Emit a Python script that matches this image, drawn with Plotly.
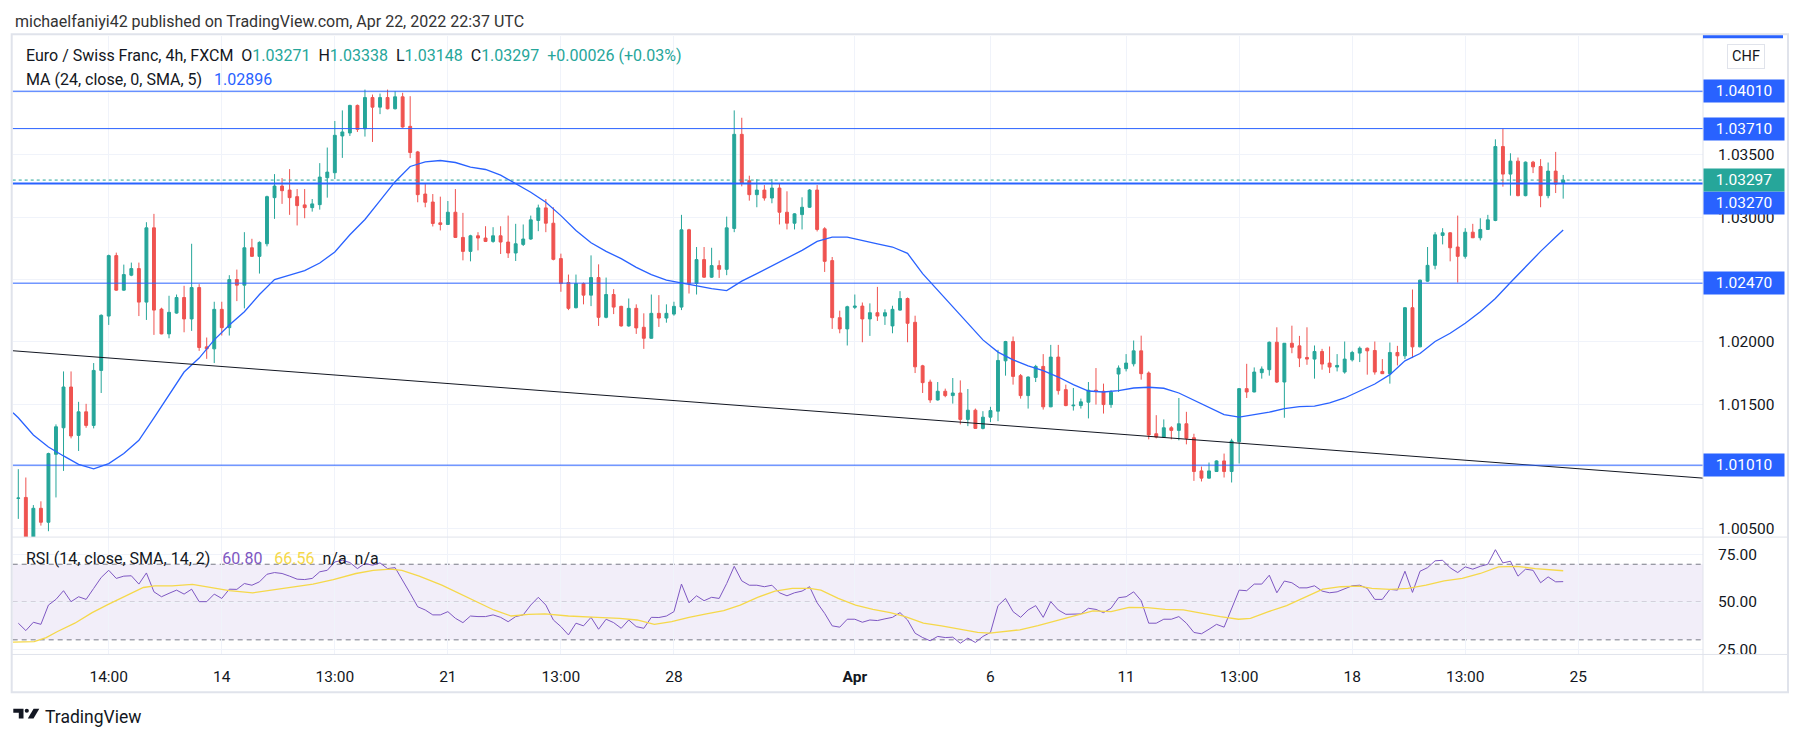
import plotly.graph_objects as go

W, H = 1802, 742

# ---------------- data (EUR/CHF 4h candles) ----------------
opens = [
    1.00744, 1.00751, 1.00430, 1.00664, 1.00552, 1.01097, 1.01310, 1.01637, 1.01249, 1.01438,
    1.01329, 1.01770, 1.02206, 1.02691, 1.02414, 1.02534, 1.02587, 1.02318, 1.02914, 1.02262,
    1.02063, 1.02230, 1.02355, 1.02183, 1.02435, 1.01959, 1.01943, 1.02260, 1.02113, 1.02499,
    1.02454, 1.02754, 1.02685, 1.02786, 1.03156, 1.03249, 1.03217, 1.03164, 1.03098, 1.03076,
    1.03100, 1.03316, 1.03356, 1.03651, 1.03675, 1.03896, 1.03709, 1.03959, 1.03882, 1.03959,
    1.03869, 1.03965, 1.03728, 1.03523, 1.03185, 1.03121, 1.02954, 1.02941, 1.03039, 1.02837,
    1.02725, 1.02850, 1.02832, 1.02805, 1.02850, 1.02800, 1.02712, 1.02781, 1.02824, 1.02973,
    1.03074, 1.02951, 1.02667, 1.02475, 1.02273, 1.02467, 1.02374, 1.02515, 1.02196, 1.02379,
    1.02284, 1.02127, 1.02268, 1.02116, 1.02028, 1.02228, 1.02190, 1.02222, 1.02278, 1.02898,
    1.02467, 1.02659, 1.02518, 1.02611, 1.02581, 1.02909, 1.03664, 1.03292, 1.03180, 1.03217,
    1.03153, 1.03233, 1.03039, 1.02951, 1.03020, 1.03079, 1.03217, 1.02906, 1.02651, 1.02193,
    1.02103, 1.02276, 1.02286, 1.02183, 1.02233, 1.02206, 1.02127, 1.02254, 1.02347, 1.02156,
    1.01807, 1.01677, 1.01533, 1.01603, 1.01568, 1.01589, 1.01377, 1.01451, 1.01305, 1.01395,
    1.01443, 1.01847, 1.02002, 1.01728, 1.01568, 1.01714, 1.01802, 1.01478, 1.01877, 1.01616,
    1.01486, 1.01488, 1.01515, 1.01611, 1.01603, 1.01496, 1.01741, 1.01784, 1.01823, 1.01927,
    1.01749, 1.01262, 1.01235, 1.01310, 1.01289, 1.01342, 1.01230, 1.00964, 1.00906, 1.00959,
    1.01044, 1.00959, 1.01198, 1.01624, 1.01597, 1.01752, 1.01776, 1.01996, 1.01677, 1.01988,
    1.01967, 1.01874, 1.01861, 1.01922, 1.01829, 1.01797, 1.01757, 1.01855, 1.01909, 1.01948,
    1.01930, 1.01762, 1.01744, 1.01914, 1.01887, 1.02273, 1.01959, 1.02486, 1.02613, 1.02853,
    1.02874, 1.02760, 1.02685, 1.02879, 1.02834, 1.02901, 1.02973, 1.03566, 1.03345, 1.03449,
    1.03172, 1.03441, 1.03406, 1.03172, 1.03369, 1.03271,
]
highs = [
    1.00978, 1.00911, 1.00690, 1.00720, 1.01110, 1.01337, 1.01762, 1.01762, 1.01518, 1.01502,
    1.01829, 1.02220, 1.02699, 1.02715, 1.02619, 1.02635, 1.02635, 1.02959, 1.03026, 1.02273,
    1.02369, 1.02379, 1.02449, 1.02786, 1.02462, 1.02034, 1.02321, 1.02321, 1.02534, 1.02579,
    1.02879, 1.02826, 1.02805, 1.03172, 1.03345, 1.03313, 1.03385, 1.03225, 1.03225, 1.03145,
    1.03433, 1.03558, 1.03771, 1.03856, 1.03901, 1.03903, 1.04023, 1.03983, 1.03991, 1.04023,
    1.04010, 1.03997, 1.03970, 1.03531, 1.03265, 1.03185, 1.03164, 1.03129, 1.03225, 1.03034,
    1.02858, 1.02879, 1.02927, 1.02919, 1.02927, 1.03012, 1.02946, 1.02941, 1.03012, 1.03100,
    1.03145, 1.03079, 1.02707, 1.02539, 1.02539, 1.02475, 1.02693, 1.02621, 1.02515, 1.02422,
    1.02289, 1.02347, 1.02300, 1.02228, 1.02379, 1.02374, 1.02300, 1.02321, 1.03018, 1.02906,
    1.02760, 1.02760, 1.02754, 1.02653, 1.03004, 1.03856, 1.03797, 1.03332, 1.03305, 1.03257,
    1.03305, 1.03270, 1.03207, 1.03031, 1.03159, 1.03225, 1.03257, 1.02919, 1.02680, 1.02249,
    1.02289, 1.02379, 1.02315, 1.02308, 1.02440, 1.02260, 1.02289, 1.02406, 1.02355, 1.02209,
    1.01815, 1.01696, 1.01677, 1.01624, 1.01709, 1.01690, 1.01621, 1.01464, 1.01443, 1.01478,
    1.01935, 1.02007, 1.02042, 1.01741, 1.01722, 1.01815, 1.01901, 1.01975, 1.01975, 1.01656,
    1.01629, 1.01544, 1.01677, 1.01789, 1.01664, 1.01611, 1.01810, 1.01901, 1.02010, 1.02049,
    1.01762, 1.01411, 1.01377, 1.01323, 1.01549, 1.01438, 1.01262, 1.00999, 1.01031, 1.01049,
    1.01103, 1.01222, 1.01629, 1.01823, 1.01794, 1.01802, 1.02002, 1.02116, 1.01990, 1.02129,
    1.02047, 1.02116, 1.01970, 1.01943, 1.01962, 1.01901, 1.02002, 1.01927, 1.01962, 1.01954,
    1.02002, 1.01861, 1.01994, 1.01967, 1.02278, 1.02419, 1.02499, 1.02760, 1.02879, 1.02911,
    1.02879, 1.03012, 1.02911, 1.02946, 1.02991, 1.03018, 1.03624, 1.03709, 1.03512, 1.03478,
    1.03446, 1.03451, 1.03465, 1.03438, 1.03523, 1.03338,
]
lows = [
    1.00579, 1.00390, 1.00400, 1.00525, 1.00480, 1.00751, 1.00964, 1.01225, 1.01124, 1.01310,
    1.01305, 1.01589, 1.02135, 1.02409, 1.02409, 1.02526, 1.02206, 1.02175, 1.02055, 1.02060,
    1.02028, 1.02225, 1.02076, 1.02087, 1.01927, 1.01863, 1.01829, 1.02050, 1.02050, 1.02326,
    1.02268, 1.02680, 1.02547, 1.02765, 1.02986, 1.03106, 1.03018, 1.02933, 1.02991, 1.03044,
    1.03060, 1.03156, 1.03305, 1.03475, 1.03651, 1.03683, 1.03646, 1.03603, 1.03826, 1.03864,
    1.03864, 1.03717, 1.03473, 1.03119, 1.03079, 1.02925, 1.02893, 1.02938, 1.02832, 1.02653,
    1.02645, 1.02733, 1.02800, 1.02794, 1.02704, 1.02672, 1.02648, 1.02768, 1.02818, 1.02887,
    1.02879, 1.02653, 1.02401, 1.02254, 1.02268, 1.02300, 1.02286, 1.02127, 1.02188, 1.02222,
    1.02121, 1.02121, 1.02063, 1.01943, 1.02025, 1.02119, 1.02153, 1.02209, 1.02254, 1.02387,
    1.02379, 1.02512, 1.02512, 1.02512, 1.02534, 1.02879, 1.03247, 1.03132, 1.03079, 1.03132,
    1.03111, 1.02941, 1.02901, 1.02901, 1.02901, 1.03074, 1.02885, 1.02560, 1.02103, 1.02068,
    1.01970, 1.02262, 1.01996, 1.02047, 1.02167, 1.02135, 1.02068, 1.02249, 1.01996, 1.01749,
    1.01589, 1.01510, 1.01528, 1.01555, 1.01504, 1.01337, 1.01323, 1.01302, 1.01297, 1.01355,
    1.01363, 1.01728, 1.01656, 1.01544, 1.01464, 1.01677, 1.01456, 1.01475, 1.01576, 1.01483,
    1.01448, 1.01464, 1.01385, 1.01496, 1.01424, 1.01470, 1.01597, 1.01762, 1.01802, 1.01696,
    1.01217, 1.01225, 1.01230, 1.01217, 1.01209, 1.01177, 1.00884, 1.00879, 1.00903, 1.00956,
    1.00911, 1.00871, 1.01023, 1.01549, 1.01595, 1.01704, 1.01728, 1.01669, 1.01390, 1.01908,
    1.01797, 1.01815, 1.01704, 1.01776, 1.01749, 1.01762, 1.01744, 1.01842, 1.01837, 1.01736,
    1.01736, 1.01741, 1.01664, 1.01810, 1.01861, 1.01869, 1.01956, 1.02480, 1.02581, 1.02781,
    1.02645, 1.02475, 1.02667, 1.02832, 1.02813, 1.02898, 1.02967, 1.03244, 1.03172, 1.03167,
    1.03167, 1.03353, 1.03079, 1.03151, 1.03193, 1.03148,
]
closes = [
    1.00746, 1.00425, 1.00664, 1.00552, 1.01103, 1.01318, 1.01637, 1.01244, 1.01438, 1.01329,
    1.01770, 1.02212, 1.02691, 1.02414, 1.02539, 1.02587, 1.02318, 1.02914, 1.02254, 1.02063,
    1.02236, 1.02355, 1.02183, 1.02435, 1.01954, 1.01943, 1.02260, 1.02113, 1.02499, 1.02454,
    1.02754, 1.02685, 1.02797, 1.03164, 1.03249, 1.03212, 1.03156, 1.03092, 1.03076, 1.03106,
    1.03321, 1.03361, 1.03656, 1.03683, 1.03896, 1.03704, 1.03959, 1.03882, 1.03959, 1.03869,
    1.03965, 1.03723, 1.03518, 1.03180, 1.03119, 1.02949, 1.02941, 1.03039, 1.02837, 1.02725,
    1.02850, 1.02832, 1.02805, 1.02850, 1.02800, 1.02712, 1.02786, 1.02824, 1.02978, 1.03074,
    1.02951, 1.02661, 1.02467, 1.02268, 1.02467, 1.02374, 1.02515, 1.02196, 1.02379, 1.02278,
    1.02127, 1.02268, 1.02111, 1.02028, 1.02228, 1.02190, 1.02228, 1.02284, 1.02898, 1.02467,
    1.02659, 1.02518, 1.02611, 1.02581, 1.02914, 1.03664, 1.03273, 1.03180, 1.03217, 1.03153,
    1.03233, 1.03039, 1.02951, 1.03026, 1.03079, 1.03217, 1.02901, 1.02645, 1.02193, 1.02103,
    1.02281, 1.02286, 1.02183, 1.02233, 1.02206, 1.02233, 1.02260, 1.02347, 1.02148, 1.01799,
    1.01672, 1.01533, 1.01603, 1.01568, 1.01589, 1.01377, 1.01451, 1.01305, 1.01395, 1.01448,
    1.01850, 1.02002, 1.01722, 1.01568, 1.01717, 1.01802, 1.01478, 1.01877, 1.01608, 1.01488,
    1.01491, 1.01518, 1.01611, 1.01603, 1.01496, 1.01595, 1.01789, 1.01829, 1.01927, 1.01744,
    1.01252, 1.01235, 1.01310, 1.01289, 1.01342, 1.01225, 1.00959, 1.00906, 1.00964, 1.01044,
    1.00959, 1.01204, 1.01624, 1.01597, 1.01757, 1.01781, 1.01996, 1.01677, 1.01988, 1.01956,
    1.01869, 1.01861, 1.01922, 1.01821, 1.01797, 1.01810, 1.01861, 1.01914, 1.01948, 1.01927,
    1.01757, 1.01744, 1.01914, 1.01887, 1.02273, 1.01959, 1.02494, 1.02613, 1.02858, 1.02874,
    1.02754, 1.02685, 1.02879, 1.02834, 1.02901, 1.02978, 1.03566, 1.03345, 1.03449, 1.03172,
    1.03441, 1.03403, 1.03172, 1.03369, 1.03265, 1.03297,
]
bar_idx = list(range(len(closes)))

# MA (24, close) line, read at every second bar
ma_idx = [-0.7, 0, 2, 4, 6, 8, 10, 12, 14, 16, 18, 20, 22, 24, 26, 28, 30, 32, 34, 36, 38, 40,
          42, 44, 46, 48, 50, 52, 54, 56, 58, 60, 62, 64, 66, 68, 70, 72, 74, 76, 78, 80, 82,
          84, 86, 88, 90, 92, 94, 96, 98, 100, 102, 104, 106, 108, 110, 112, 114, 116, 118,
          120, 122, 124, 126, 128, 130, 132, 134, 136, 138, 140, 142, 144, 146, 148, 150, 152,
          154, 156, 158, 160, 162, 164, 166, 168, 170, 172, 174, 176, 178, 180, 182, 184, 186,
          188, 190, 192, 194, 196, 198, 200, 202, 204, 205]
ma_vals = [1.01430, 1.01390, 1.01252, 1.01156, 1.01084, 1.01017, 1.00980, 1.01023, 1.01103,
           1.01209, 1.01390, 1.01576, 1.01757, 1.01869, 1.02015, 1.02135, 1.02241, 1.02379,
           1.02499, 1.02534, 1.02571, 1.02632, 1.02720, 1.02858, 1.02981, 1.03132, 1.03284,
           1.03406, 1.03443, 1.03454, 1.03438, 1.03401, 1.03382, 1.03337, 1.03265, 1.03199,
           1.03119, 1.03012, 1.02893, 1.02794, 1.02725, 1.02667, 1.02597, 1.02539, 1.02494,
           1.02470, 1.02449, 1.02427, 1.02411, 1.02486, 1.02547, 1.02608, 1.02667, 1.02733,
           1.02805, 1.02840, 1.02840, 1.02816, 1.02786, 1.02760, 1.02709, 1.02547, 1.02414,
           1.02281, 1.02156, 1.02015, 1.01917, 1.01855, 1.01807, 1.01768, 1.01717, 1.01656,
           1.01605, 1.01597, 1.01608, 1.01629, 1.01635, 1.01627, 1.01589, 1.01531, 1.01470,
           1.01416, 1.01395, 1.01414, 1.01435, 1.01464, 1.01480, 1.01483, 1.01510, 1.01549,
           1.01603, 1.01661, 1.01736, 1.01847, 1.01906, 1.02002, 1.02068, 1.02148, 1.02241,
           1.02347, 1.02475, 1.02600, 1.02725, 1.02840, 1.02896]

# RSI (14) per bar
rsi_vals = [
    38.8, 34.9, 39.3, 38.2, 48.4, 51.4, 56.0, 50.2, 52.8, 51.4,
    57.2, 63.0, 66.8, 62.5, 63.7, 63.9, 59.5, 65.4, 55.4, 52.8,
    54.6, 56.3, 54.2, 56.8, 50.2, 50.2, 54.2, 51.9, 56.8, 56.7,
    59.8, 58.9, 60.7, 64.7, 65.6, 65.1, 63.7, 62.1, 61.9, 62.5,
    66.0, 66.8, 71.2, 72.1, 70.9, 67.7, 70.4, 69.5, 70.7, 67.7,
    68.2, 61.6, 54.6, 47.5, 45.8, 43.2, 43.2, 44.9, 41.4, 39.1,
    42.6, 42.3, 42.3, 43.2, 41.9, 39.6, 42.3, 43.2, 48.4, 52.5,
    48.4, 40.5, 37.0, 32.6, 38.8, 37.4, 41.9, 35.6, 40.9, 39.1,
    36.1, 40.5, 37.0, 36.1, 41.9, 41.8, 42.6, 44.9, 59.5, 49.6,
    53.3, 50.7, 52.5, 51.9, 59.8, 68.9, 61.2, 58.9, 58.9, 58.1,
    58.9, 54.9, 53.3, 54.9, 55.8, 58.1, 49.6, 44.0, 37.4, 36.7,
    40.9, 40.9, 39.3, 40.5, 40.2, 41.1, 41.9, 44.4, 40.5, 33.5,
    31.2, 29.5, 31.8, 31.2, 31.4, 28.2, 30.9, 28.6, 31.8, 33.9,
    48.1, 51.9, 44.9, 41.9, 45.8, 48.1, 41.9, 50.2, 45.8, 43.5,
    43.5, 43.7, 46.7, 46.1, 44.4, 46.7, 52.3, 52.8, 55.4, 50.7,
    38.8, 38.8, 40.9, 40.9, 42.3, 38.8, 33.9, 33.2, 35.6, 38.2,
    36.7, 46.1, 56.3, 56.0, 59.5, 59.5, 64.2, 54.9, 61.1, 60.2,
    57.5, 57.5, 58.6, 55.8, 54.9, 55.4, 57.2, 58.6, 58.9, 57.2,
    51.4, 51.4, 56.7, 56.3, 66.3, 55.1, 66.3, 68.2, 71.8, 72.1,
    68.1, 65.6, 68.6, 67.4, 68.9, 70.0, 77.7, 70.7, 71.6, 63.7,
    67.4, 66.8, 60.2, 63.3, 60.7, 60.80,
]
# RSI-based moving average
rsi_ma_idx = [-0.7, 2.1, 3.7, 5.2, 7.5, 9.8, 12.0, 14.3, 16.6, 18.1, 20.4, 23.1, 25.0, 28.0,
              31.1, 33.4, 36.4, 39.1, 41.8, 44.8, 47.1, 49.4, 50.9, 53.2, 56.2, 58.5, 60.8,
              63.1, 65.4, 67.7, 69.9, 73.0, 76.8, 79.8, 82.1, 84.4, 86.7, 89.0, 91.3, 93.6,
              95.8, 98.1, 100.4, 102.7, 105.0, 106.5, 108.8, 111.1, 113.4, 115.7, 117.7,
              120.1, 122.5, 124.9, 127.3, 128.9, 131.3, 132.9, 135.3, 137.7, 140.2, 142.6,
              145.0, 147.4, 149.8, 152.2, 154.6, 157.0, 159.5, 161.9, 163.5, 165.9, 168.3,
              170.7, 173.1, 175.5, 177.9, 179.6, 182.0, 184.4, 186.8, 189.2, 191.6, 194.0,
              196.4, 198.8, 201.3, 205.0]
rsi_ma_vals = [28.8, 29.1, 31.2, 34.4, 38.8, 44.4, 48.9, 53.3, 57.7, 58.6, 58.6, 59.3, 58.1,
               56.0, 54.9, 56.3, 58.1, 59.5, 61.9, 65.1, 66.8, 67.4, 66.8, 63.7, 58.9, 54.6,
               50.2, 45.8, 42.6, 43.5, 43.7, 42.6, 41.9, 41.4, 40.5, 38.2, 39.6, 41.9, 43.7,
               45.4, 48.4, 52.5, 55.8, 57.2, 57.2, 56.3, 51.9, 48.4, 46.1, 44.4, 42.3, 38.8,
               37.4, 35.8, 33.9, 33.5, 34.4, 35.3, 37.5, 40.0, 42.6, 45.3, 44.9, 47.2, 47.0,
               46.1, 45.8, 44.0, 42.3, 40.9, 41.4, 44.9, 48.1, 52.5, 56.8, 58.1, 58.4, 57.2,
               56.7, 57.2, 58.9, 61.2, 62.5, 65.1, 68.6, 68.9, 67.7, 66.56]

tick_idx = [12, 27, 42, 57, 72, 87, 111, 129, 147, 162, 177, 192, 207]
tick_text = ["14:00", "14", "13:00", "21", "13:00", "28", "<b>Apr</b>", "6", "11", "13:00",
             "18", "13:00", "25"]

price_ticks = [1.00500, 1.01000, 1.01500, 1.02000, 1.02500, 1.03000, 1.03500, 1.04000]
rsi_ticks = [25, 50, 75]
rsi_bands = [70, 50, 30]

levels = [1.04010, 1.03710, 1.03270, 1.02470, 1.01010]
level_widths = [1, 1, 2, 1, 1]
level_label_shift = [0, 0, -20, 0, 0]
last_price = 1.03297

trend_idx = [-0.74, 223.55]
trend_vals = [1.01928, 1.00906]

# ---------------- styling / geometry ----------------
FONT = "Roboto, 'Open Sans', 'Liberation Sans', sans-serif"
TXT = "#131722"
GREEN = "#26a69a"
RED = "#ef5350"
BLUE = "#2962ff"
PURPLE = "#7e57c2"
YELLOW = "#f5d84a"
GRID = "#f0f3fa"
BORDER = "#e0e3eb"
AX_FS = 15.5
HD_FS = 16


def px(x):
    return x / W


def py(y):
    return 1 - y / H


X_LEFT, X_RIGHT = 12.7, 1703
MAIN_TOP, MAIN_BOT = 36, 540
RSI_TOP, RSI_BOT = 540, 658
x_range = [-0.743, 223.55]

fig = go.Figure()

fig.add_trace(go.Candlestick(
    x=bar_idx, open=opens, high=highs, low=lows, close=closes,
    increasing=dict(line=dict(color=GREEN, width=1), fillcolor=GREEN),
    decreasing=dict(line=dict(color=RED, width=1), fillcolor=RED),
    whiskerwidth=0, xaxis="x", yaxis="y", showlegend=False, hoverinfo="skip",
))
fig.add_trace(go.Scatter(x=ma_idx, y=ma_vals, mode="lines",
                         line=dict(color=BLUE, width=1.3), xaxis="x", yaxis="y",
                         showlegend=False, hoverinfo="skip"))
fig.add_trace(go.Scatter(x=trend_idx, y=trend_vals, mode="lines",
                         line=dict(color=TXT, width=1), xaxis="x", yaxis="y",
                         showlegend=False, hoverinfo="skip"))
fig.add_trace(go.Scatter(x=bar_idx, y=rsi_vals, mode="lines",
                         line=dict(color=PURPLE, width=1), xaxis="x2", yaxis="y2",
                         showlegend=False, hoverinfo="skip"))
fig.add_trace(go.Scatter(x=rsi_ma_idx, y=rsi_ma_vals, mode="lines",
                         line=dict(color=YELLOW, width=1.3), xaxis="x2", yaxis="y2",
                         showlegend=False, hoverinfo="skip"))

shapes = []
# RSI band and dashed levels
shapes.append(dict(type="rect", xref="x2 domain", yref="y2", x0=0, x1=1,
                   y0=rsi_bands[2], y1=rsi_bands[0], fillcolor="rgba(126,87,194,0.10)",
                   line=dict(width=0), layer="below"))
for lv in rsi_bands:
    shapes.append(dict(type="line", xref="x2 domain", yref="y2", x0=0, x1=1, y0=lv, y1=lv,
                       line=dict(color="#787b86" if lv != 50 else "rgba(120,123,134,0.55)",
                                 width=1, dash="5px,4px"), layer="below"))
# horizontal drawing levels
for lvl, lw in zip(levels, level_widths):
    shapes.append(dict(type="line", xref="x domain", yref="y", x0=0, x1=1, y0=lvl, y1=lvl,
                       line=dict(color=BLUE, width=lw), layer="above"))
shapes.append(dict(type="line", xref="x domain", yref="y", x0=0, x1=1, y0=last_price,
                   y1=last_price, line=dict(color=GREEN, width=1, dash="dot"), layer="above"))
# mask below the RSI pane on the price scale (clips the 25.00 label like the original)
shapes.append(dict(type="rect", xref="paper", yref="paper", x0=px(X_RIGHT + 0.5), x1=px(1787),
                   y0=py(695), y1=py(RSI_BOT), fillcolor="white", line=dict(width=0),
                   layer="above"))
# frame and separators
shapes.append(dict(type="rect", xref="paper", yref="paper", x0=px(11.7), x1=px(1788),
                   y0=py(696), y1=py(34.5), line=dict(color=BORDER, width=2), layer="above"))
for yy in (RSI_TOP, RSI_BOT):
    shapes.append(dict(type="line", xref="paper", yref="paper", x0=px(11.7), x1=px(1788),
                       y0=py(yy), y1=py(yy), line=dict(color=BORDER, width=1), layer="above"))
shapes.append(dict(type="line", xref="paper", yref="paper", x0=px(X_RIGHT), x1=px(X_RIGHT),
                   y0=py(696), y1=py(34.5), line=dict(color=BORDER, width=1), layer="above"))
# clipped label at the top of the price scale
shapes.append(dict(type="rect", xref="paper", yref="paper", x0=px(1703), x1=px(1783),
                   y0=py(38.5), y1=py(35.5), fillcolor=BLUE, line=dict(width=0), layer="above"))


# TradingView logo glyph
def path(points):
    return "M " + " L ".join(f"{px(a):.6f},{py(b):.6f}" for a, b in points) + " Z"


LT, LB = 712.5, 722.5
shapes.append(dict(type="path", xref="paper", yref="paper",
                   path=path([(13.3, LT), (23.5, LT), (23.5, LB), (18.8, LB),
                              (18.8, LT + 4.2), (13.3, LT + 4.2)]),
                   fillcolor=TXT, line=dict(width=0)))
shapes.append(dict(type="circle", xref="paper", yref="paper", x0=px(24.7), x1=px(28.9),
                   y0=py(LT + 4.2), y1=py(LT), fillcolor=TXT, line=dict(width=0)))
shapes.append(dict(type="path", xref="paper", yref="paper",
                   path=path([(27.8, LB), (33.6, LT), (39.3, LT), (33.5, LB)]),
                   fillcolor=TXT, line=dict(width=0)))

annotations = []
# price scale labels of drawings
for lvl, sh in zip(levels, level_label_shift):
    annotations.append(dict(xref="paper", yref="y", x=px(X_RIGHT), y=lvl, xanchor="left",
                            yanchor="middle", yshift=sh, text=f"{lvl:.5f}", showarrow=False,
                            font=dict(color="white", size=AX_FS, family=FONT), bgcolor=BLUE,
                            width=76, height=18, borderpad=2, align="center"))
annotations.append(dict(xref="paper", yref="y", x=px(X_RIGHT), y=last_price, xanchor="left",
                        yanchor="middle", text=f"{last_price:.5f}", showarrow=False,
                        font=dict(color="white", size=AX_FS, family=FONT), bgcolor=GREEN,
                        width=76, height=18, borderpad=2, align="center"))
annotations.append(dict(xref="paper", yref="paper", x=px(1746), y=py(57), xanchor="center",
                        yanchor="middle", text="CHF", showarrow=False,
                        font=dict(color=TXT, size=14.5, family=FONT), bgcolor="white",
                        bordercolor=BORDER, borderwidth=1, borderpad=4, width=28, height=15))

NB = "\u00a0\u00a0"
NB3 = "\u00a0\u00a0\u00a0"


def col(t, c):
    return f'<span style="color:{c}">{t}</span>'


annotations.append(dict(xref="paper", yref="paper", x=px(13), y=py(21.5), xanchor="left",
                        yanchor="middle", showarrow=False,
                        text="michaelfaniyi42 published on TradingView.com, Apr 22, 2022 22:37 UTC",
                        font=dict(color="#333333", size=HD_FS, family=FONT)))
header = ("Euro / Swiss Franc, 4h, FXCM" + NB
          + "O" + col(f"{opens[-1]:.5f}", GREEN) + NB
          + "H" + col(f"{highs[-1]:.5f}", GREEN) + NB
          + "L" + col(f"{lows[-1]:.5f}", GREEN) + NB
          + "C" + col(f"{closes[-1]:.5f}", GREEN) + NB
          + col("+0.00026 (+0.03%)", GREEN))
annotations.append(dict(xref="paper", yref="paper", x=px(24), y=py(56), xanchor="left",
                        yanchor="middle", showarrow=False, text=header,
                        font=dict(color=TXT, size=HD_FS, family=FONT)))
annotations.append(dict(xref="paper", yref="paper", x=px(24), y=py(80), xanchor="left",
                        yanchor="middle", showarrow=False,
                        text="MA (24, close, 0, SMA, 5)" + NB3 + col(f"{ma_vals[-1]:.5f}", BLUE),
                        font=dict(color=TXT, size=HD_FS, family=FONT)))
annotations.append(dict(xref="paper", yref="paper", x=px(24), y=py(562), xanchor="left",
                        yanchor="middle", showarrow=False,
                        text="RSI (14, close, SMA, 14, 2)" + NB3 + col(f"{rsi_vals[-1]:.2f}", PURPLE)
                        + NB3 + col(f"{rsi_ma_vals[-1]:.2f}", YELLOW) + NB + "n/a" + NB + "n/a",
                        font=dict(color=TXT, size=HD_FS, family=FONT)))
annotations.append(dict(xref="paper", yref="paper", x=px(42.5), y=py(720.5), xanchor="left",
                        yanchor="middle", showarrow=False, text="TradingView",
                        font=dict(color=TXT, size=17.5, family=FONT)))

fig.update_layout(
    width=W, height=H, margin=dict(l=0, r=0, t=0, b=0),
    paper_bgcolor="white", plot_bgcolor="white", showlegend=False, boxgap=0.45,
    font=dict(family=FONT, size=AX_FS, color=TXT),
    xaxis=dict(domain=[px(X_LEFT), px(X_RIGHT)], range=x_range, anchor="y",
               tickvals=tick_idx, showticklabels=False, showgrid=True, gridcolor=GRID,
               zeroline=False, showline=False, ticks="", rangeslider=dict(visible=False),
               fixedrange=True),
    yaxis=dict(domain=[py(MAIN_BOT), py(MAIN_TOP)], range=[1.00433, 1.044544], anchor="x",
               side="right", tickvals=price_ticks, tickformat=".5f", showgrid=True,
               gridcolor=GRID, zeroline=False, showline=False, ticks="outside", ticklen=11,
               tickcolor="rgba(0,0,0,0)", tickfont=dict(size=AX_FS, color=TXT, family=FONT),
               fixedrange=True),
    xaxis2=dict(domain=[px(X_LEFT), px(X_RIGHT)], range=x_range, anchor="y2",
                tickvals=tick_idx, ticktext=tick_text, showgrid=True, gridcolor=GRID,
                zeroline=False, showline=False, ticks="outside", ticklen=8,
                tickcolor="rgba(0,0,0,0)", tickfont=dict(size=AX_FS, color=TXT, family=FONT),
                fixedrange=True),
    yaxis2=dict(domain=[py(RSI_BOT), py(RSI_TOP)], range=[22.26, 84.37], anchor="x2",
                side="right", tickvals=rsi_ticks, tickformat=".2f", showgrid=True,
                gridcolor=GRID, zeroline=False, showline=False, ticks="outside", ticklen=11,
                tickcolor="rgba(0,0,0,0)", tickfont=dict(size=AX_FS, color=TXT, family=FONT),
                fixedrange=True),
    shapes=shapes, annotations=annotations,
)

fig.write_html(
    "out.html",
    config={"displayModeBar": False, "staticPlot": True},
    post_script="document.body.style.margin='0';document.body.style.padding='0';"
                "document.body.style.overflow='hidden';",
)
